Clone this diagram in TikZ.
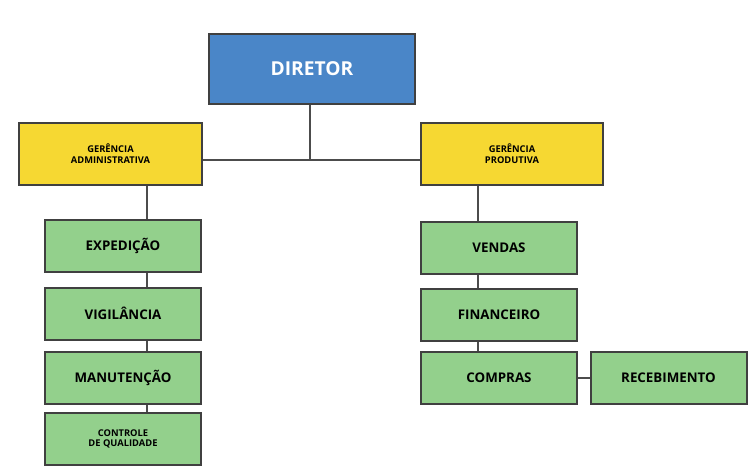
\documentclass[tikz,border=0pt]{standalone}
\usepackage{fontspec}
\setmainfont{Open Sans}
\begin{document}
\begin{tikzpicture}[x=0.75pt,y=-0.75pt,
 box/.style={draw=black!75,line width=1.5pt,font=\bfseries,align=center,inner sep=0pt},
 gr/.style={box,fill=green!35!teal!30!white,fill={rgb,255:red,147;green,208;blue,140}},
 ye/.style={box,fill={rgb,255:red,246;green,216;blue,50},font=\bfseries\scriptsize},
 ln/.style={draw=black!70,line width=1.5pt}]
\path[use as bounding box,fill=white] (0,0) rectangle (753,471);
\def\bx#1#2#3#4#5#6#7{\node[#2,minimum width=#5*0.75pt-1.5pt,minimum height=#6*0.75pt-1.5pt] (#1) at ({(#3+#4)/2},{#7}) {#1};}
\node[box,fill={rgb,255:red,74;green,134;blue,200},text=white,font=\bfseries\Large,minimum width=155pt,minimum height=53pt] (dir) at (312,69) {DIRETOR};
\node[ye,minimum width=137pt,minimum height=47pt] (ga) at (110.5,154) {GERÊNCIA\\ADMINISTRATIVA};
\node[ye,minimum width=137pt,minimum height=47pt] (gp) at (512,154) {GERÊNCIA\\PRODUTIVA};
\node[gr,minimum width=117pt,minimum height=39pt] (e1) at (123,245.5) {EXPEDIÇÃO};
\node[gr,minimum width=117pt,minimum height=39pt] (e2) at (123,313.5) {VIGILÂNCIA};
\node[gr,minimum width=117pt,minimum height=39pt] (e3) at (123,377.5) {MANUTENÇÃO};
\node[gr,minimum width=117pt,minimum height=39pt,font=\bfseries\scriptsize] (e4) at (123,439) {CONTROLE\\DE QUALIDADE};
\node[gr,minimum width=117pt,minimum height=39pt] (d1) at (499,247.5) {VENDAS};
\node[gr,minimum width=117pt,minimum height=39pt] (d2) at (499,314.5) {FINANCEIRO};
\node[gr,minimum width=117pt,minimum height=39pt] (d3) at (499,377.5) {COMPRAS};
\node[gr,minimum width=117pt,minimum height=39pt] (d4) at (668.5,377.5) {RECEBIMENTO};
\coordinate (j) at (310,160);
\draw[ln] (dir.south -| j) -- (j);
\draw[ln] (ga.east |- j) -- (gp.west |- j);
\draw[ln] (ga.south -| 147,0) -- (e1.north -| 147,0);
\draw[ln] (e1.south -| 147,0) -- (e2.north -| 147,0);
\draw[ln] (e2.south -| 147,0) -- (e3.north -| 147,0);
\draw[ln] (e3.south -| 147,0) -- (e4.north -| 147,0);
\draw[ln] (gp.south -| 478,0) -- (d1.north -| 478,0);
\draw[ln] (d1.south -| 478,0) -- (d2.north -| 478,0);
\draw[ln] (d2.south -| 478,0) -- (d3.north -| 478,0);
\draw[ln] (d3) -- (d4);
\end{tikzpicture}
\end{document}
